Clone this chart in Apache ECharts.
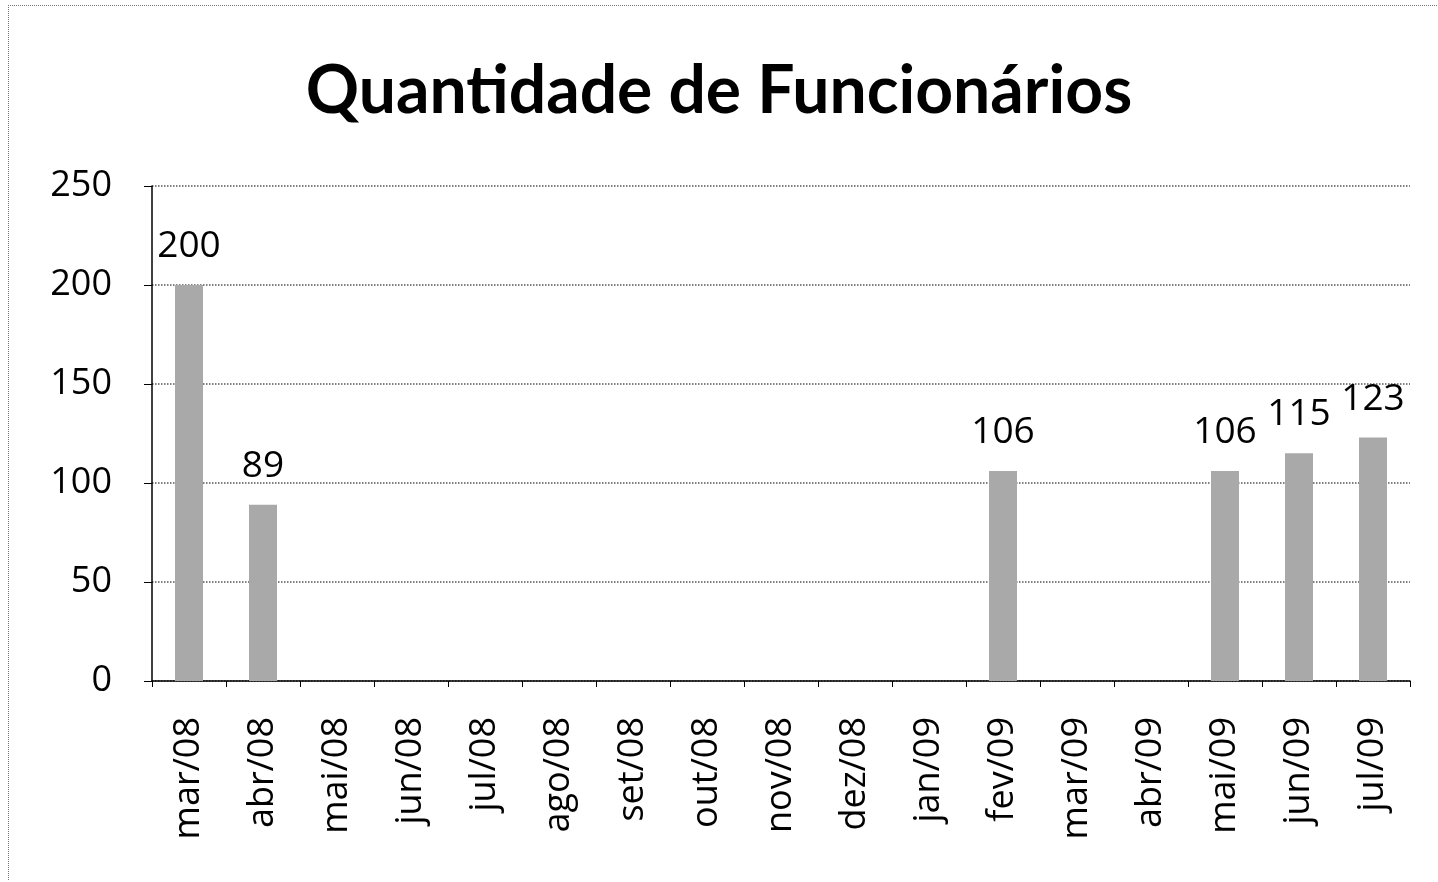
<!DOCTYPE html>
<html>
<head>
<meta charset="utf-8">
<title>Quantidade de Funcionários</title>
<script src="https://cdn.jsdelivr.net/npm/echarts@6/dist/echarts.min.js"></script>
<style>
    html, body { margin: 0; padding: 0; background: #fff; }
    #chart { width: 1438px; height: 882px; }
    #frame {
        position: absolute; left: 8px; top: 5px; width: 1428px; height: 874px;
        border-top: 1px dotted #777; border-left: 1px dotted #777; pointer-events: none;
    }
</style>
</head>
<body>
<div id="chart"></div>
<div id="frame"></div>
<script>
// meses (mar/08 a jul/09)
const months = ['mar/08', 'abr/08', 'mai/08', 'jun/08', 'jul/08', 'ago/08', 'set/08', 'out/08',
    'nov/08', 'dez/08', 'jan/09', 'fev/09', 'mar/09', 'abr/09', 'mai/09', 'jun/09', 'jul/09'];
// quantidade de funcionários, null = sem dado
const funcionarios = [200, 89, null, null, null, null, null, null,
    null, null, null, 106, null, null, 106, 115, 123];
const yTicks = [0, 50, 100, 150, 200, 250];

const chart = echarts.init(document.getElementById('chart'));
chart.setOption({
    animation: false,
    title: {
        text: 'Quantidade de Funcionários',
        left: 'center',
        top: 54,
        textStyle: {
            fontFamily: 'Lato',
            fontWeight: 'bold',
            fontSize: 66,
            color: '#000'
        }
    },
    grid: { left: 152, right: 28, top: 186, bottom: 201 },
    xAxis: {
        type: 'category',
        data: months,
        axisLine: { lineStyle: { color: '#000', width: 1.5 } },
        axisTick: { show: true, length: 6, lineStyle: { color: '#000' } },
        axisLabel: {
            rotate: 90,
            margin: 36,
            fontSize: 36,
            fontFamily: 'Open Sans',
            color: '#000'
        }
    },
    yAxis: {
        type: 'value',
        min: yTicks[0],
        max: yTicks[yTicks.length - 1],
        interval: 50,
        axisLine: { show: true, lineStyle: { color: '#000', width: 1.5 } },
        axisTick: { show: true, length: 8, lineStyle: { color: '#000' } },
        axisLabel: {
            margin: 40,
            fontSize: 36,
            fontFamily: 'Open Sans',
            color: '#000'
        },
        splitLine: { lineStyle: { color: '#555', type: 'dotted', width: 1.5 } }
    },
    series: [{
        type: 'bar',
        data: funcionarios,
        barWidth: 28,
        itemStyle: { color: '#a9a9a9' },
        label: {
            show: true,
            position: 'top',
            distance: 20,
            fontSize: 37,
            fontFamily: 'Open Sans',
            color: '#000'
        }
    }]
});
</script>
</body>
</html>
